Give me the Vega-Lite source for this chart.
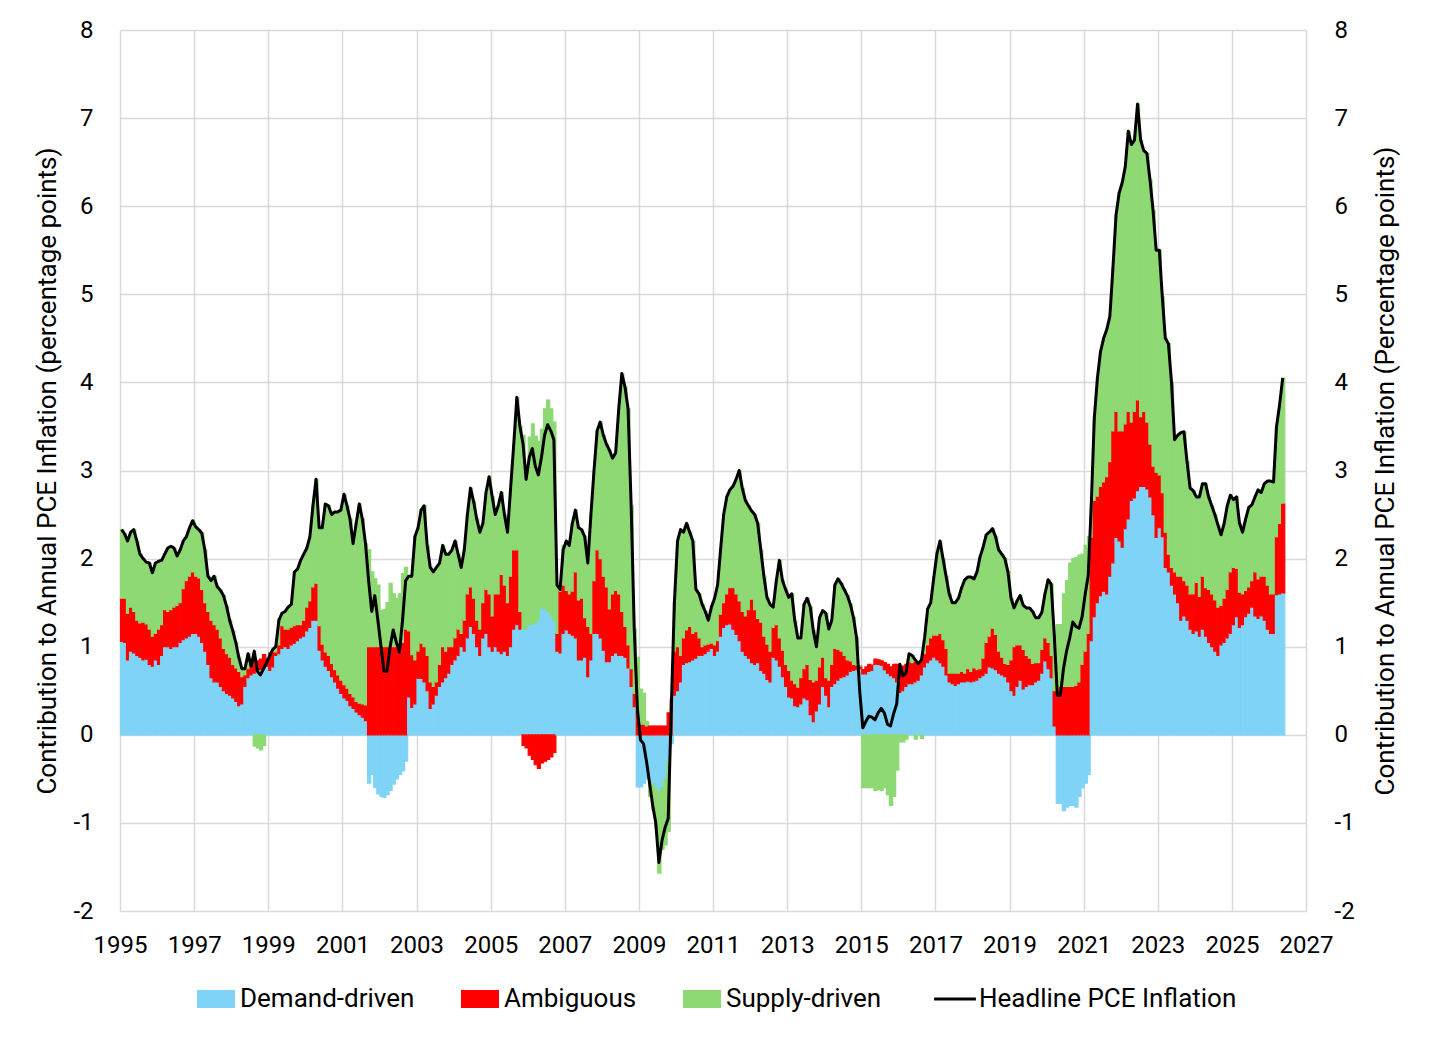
{
  "$schema": "https://vega.github.io/schema/vega-lite/v6.json",
  "width": 1186,
  "height": 881,
  "autosize": "none",
  "padding": {"left": 120, "top": 30, "right": 124, "bottom": 130},
  "background": "white",
  "config": {"font": "Roboto", "view": {"stroke": null}},
  "data": {"values": [
    {"t":"1995-01","d":1.06,"m":0.49,"s":0.78,"h":2.33},{"t":"1995-02","d":1.05,"m":0.5,"s":0.73,"h":2.28},{"t":"1995-03","d":0.85,"m":0.53,"s":0.82,"h":2.2},{"t":"1995-04","d":0.95,"m":0.5,"s":0.85,"h":2.3},{"t":"1995-05","d":0.93,"m":0.47,"s":0.93,"h":2.33},{"t":"1995-06","d":0.9,"m":0.4,"s":0.9,"h":2.2},{"t":"1995-07","d":0.88,"m":0.39,"s":0.78,"h":2.05},{"t":"1995-08","d":0.85,"m":0.43,"s":0.72,"h":2.0},{"t":"1995-09","d":0.86,"m":0.4,"s":0.7,"h":1.96},{"t":"1995-10","d":0.8,"m":0.4,"s":0.75,"h":1.95},{"t":"1995-11","d":0.78,"m":0.34,"s":0.72,"h":1.84},{"t":"1995-12","d":0.85,"m":0.3,"s":0.8,"h":1.95},
    {"t":"1996-01","d":0.8,"m":0.4,"s":0.77,"h":1.97},{"t":"1996-02","d":0.9,"m":0.35,"s":0.73,"h":1.98},{"t":"1996-03","d":1.0,"m":0.42,"s":0.63,"h":2.05},{"t":"1996-04","d":1.0,"m":0.4,"s":0.72,"h":2.12},{"t":"1996-05","d":0.98,"m":0.44,"s":0.72,"h":2.14},{"t":"1996-06","d":1.0,"m":0.45,"s":0.67,"h":2.12},{"t":"1996-07","d":1.0,"m":0.47,"s":0.56,"h":2.03},{"t":"1996-08","d":1.05,"m":0.45,"s":0.6,"h":2.1},{"t":"1996-09","d":1.08,"m":0.58,"s":0.54,"h":2.2},{"t":"1996-10","d":1.1,"m":0.65,"s":0.5,"h":2.25},{"t":"1996-11","d":1.12,"m":0.68,"s":0.55,"h":2.35},{"t":"1996-12","d":1.15,"m":0.7,"s":0.58,"h":2.43},
    {"t":"1997-01","d":1.15,"m":0.65,"s":0.56,"h":2.36},{"t":"1997-02","d":1.12,"m":0.66,"s":0.55,"h":2.33},{"t":"1997-03","d":1.05,"m":0.6,"s":0.64,"h":2.29},{"t":"1997-04","d":0.95,"m":0.55,"s":0.6,"h":2.1},{"t":"1997-05","d":0.8,"m":0.6,"s":0.4,"h":1.8},{"t":"1997-06","d":0.65,"m":0.65,"s":0.45,"h":1.75},{"t":"1997-07","d":0.6,"m":0.65,"s":0.55,"h":1.8},{"t":"1997-08","d":0.6,"m":0.6,"s":0.48,"h":1.68},{"t":"1997-09","d":0.55,"m":0.55,"s":0.54,"h":1.64},{"t":"1997-10","d":0.5,"m":0.48,"s":0.6,"h":1.58},{"t":"1997-11","d":0.47,"m":0.45,"s":0.54,"h":1.46},{"t":"1997-12","d":0.45,"m":0.43,"s":0.42,"h":1.3},
    {"t":"1998-01","d":0.42,"m":0.38,"s":0.38,"h":1.18},{"t":"1998-02","d":0.38,"m":0.38,"s":0.29,"h":1.05},{"t":"1998-03","d":0.33,"m":0.39,"s":0.16,"h":0.88},{"t":"1998-04","d":0.35,"m":0.31,"s":0.09,"h":0.75},{"t":"1998-05","d":0.55,"m":0.13,"s":0.07,"h":0.75},{"t":"1998-06","d":0.65,"m":0.1,"s":0.17,"h":0.92},{"t":"1998-07","d":0.68,"m":0.12,"s":0.0,"h":0.78},{"t":"1998-08","d":0.7,"m":0.15,"s":-0.13,"h":0.95},{"t":"1998-09","d":0.72,"m":0.12,"s":-0.15,"h":0.72},{"t":"1998-10","d":0.74,"m":0.12,"s":-0.17,"h":0.68},{"t":"1998-11","d":0.76,"m":0.15,"s":-0.12,"h":0.75},{"t":"1998-12","d":0.78,"m":0.1,"s":0.0,"h":0.82},
    {"t":"1999-01","d":0.73,"m":0.2,"s":0.0,"h":0.9},{"t":"1999-02","d":0.77,"m":0.17,"s":0.03,"h":0.97},{"t":"1999-03","d":0.9,"m":0.04,"s":0.06,"h":1.0},{"t":"1999-04","d":0.92,"m":0.1,"s":0.3,"h":1.3},{"t":"1999-05","d":0.98,"m":0.26,"s":0.14,"h":1.38},{"t":"1999-06","d":1.0,"m":0.2,"s":0.2,"h":1.4},{"t":"1999-07","d":0.98,"m":0.22,"s":0.25,"h":1.45},{"t":"1999-08","d":1.02,"m":0.2,"s":0.26,"h":1.48},{"t":"1999-09","d":1.04,"m":0.2,"s":0.6,"h":1.85},{"t":"1999-10","d":1.07,"m":0.18,"s":0.63,"h":1.88},{"t":"1999-11","d":1.1,"m":0.15,"s":0.73,"h":1.98},{"t":"1999-12","d":1.12,"m":0.18,"s":0.75,"h":2.05},
    {"t":"2000-01","d":1.18,"m":0.27,"s":0.67,"h":2.12},{"t":"2000-02","d":1.22,"m":0.3,"s":0.73,"h":2.25},{"t":"2000-03","d":1.3,"m":0.38,"s":0.92,"h":2.6},{"t":"2000-04","d":1.3,"m":0.42,"s":1.18,"h":2.9},{"t":"2000-05","d":0.96,"m":0.28,"s":1.11,"h":2.35},{"t":"2000-06","d":0.85,"m":0.18,"s":1.32,"h":2.35},{"t":"2000-07","d":0.78,"m":0.16,"s":1.68,"h":2.62},{"t":"2000-08","d":0.73,"m":0.17,"s":1.7,"h":2.6},{"t":"2000-09","d":0.66,"m":0.15,"s":1.69,"h":2.5},{"t":"2000-10","d":0.6,"m":0.14,"s":1.79,"h":2.53},{"t":"2000-11","d":0.53,"m":0.15,"s":1.85,"h":2.53},{"t":"2000-12","d":0.47,"m":0.15,"s":1.93,"h":2.55},
    {"t":"2001-01","d":0.42,"m":0.15,"s":2.16,"h":2.73},{"t":"2001-02","d":0.39,"m":0.14,"s":2.07,"h":2.6},{"t":"2001-03","d":0.33,"m":0.14,"s":1.98,"h":2.45},{"t":"2001-04","d":0.3,"m":0.13,"s":1.74,"h":2.17},{"t":"2001-05","d":0.26,"m":0.12,"s":2.02,"h":2.4},{"t":"2001-06","d":0.23,"m":0.13,"s":2.26,"h":2.62},{"t":"2001-07","d":0.2,"m":0.15,"s":2.1,"h":2.45},{"t":"2001-08","d":0.16,"m":0.18,"s":1.83,"h":2.17},{"t":"2001-09","d":-0.55,"m":1.0,"s":1.1,"h":1.75},{"t":"2001-10","d":-0.45,"m":1.0,"s":0.85,"h":1.4},{"t":"2001-11","d":-0.6,"m":1.0,"s":0.77,"h":1.58},{"t":"2001-12","d":-0.67,"m":1.0,"s":0.7,"h":1.3},
    {"t":"2002-01","d":-0.7,"m":1.0,"s":0.41,"h":1.0},{"t":"2002-02","d":-0.71,"m":1.0,"s":0.42,"h":0.72},{"t":"2002-03","d":-0.68,"m":1.0,"s":0.5,"h":0.72},{"t":"2002-04","d":-0.63,"m":1.0,"s":0.72,"h":1.0},{"t":"2002-05","d":-0.56,"m":1.0,"s":0.6,"h":1.19},{"t":"2002-06","d":-0.5,"m":1.0,"s":0.55,"h":1.05},{"t":"2002-07","d":-0.45,"m":1.0,"s":0.6,"h":0.94},{"t":"2002-08","d":-0.41,"m":1.05,"s":0.78,"h":1.3},{"t":"2002-09","d":-0.3,"m":1.2,"s":0.7,"h":1.75},{"t":"2002-10","d":0.43,"m":0.75,"s":0.6,"h":1.8},{"t":"2002-11","d":0.31,"m":0.6,"s":0.9,"h":1.8},{"t":"2002-12","d":0.35,"m":0.5,"s":1.4,"h":2.25},
    {"t":"2003-01","d":0.64,"m":0.31,"s":1.4,"h":2.35},{"t":"2003-02","d":0.64,"m":0.4,"s":1.51,"h":2.55},{"t":"2003-03","d":0.6,"m":0.4,"s":1.6,"h":2.6},{"t":"2003-04","d":0.5,"m":0.4,"s":1.25,"h":2.15},{"t":"2003-05","d":0.3,"m":0.3,"s":1.3,"h":1.9},{"t":"2003-06","d":0.35,"m":0.2,"s":1.3,"h":1.85},{"t":"2003-07","d":0.45,"m":0.15,"s":1.3,"h":1.9},{"t":"2003-08","d":0.55,"m":0.25,"s":1.15,"h":1.95},{"t":"2003-09","d":0.6,"m":0.4,"s":1.15,"h":2.15},{"t":"2003-10","d":0.65,"m":0.3,"s":1.1,"h":2.05},{"t":"2003-11","d":0.7,"m":0.3,"s":1.05,"h":2.05},{"t":"2003-12","d":0.8,"m":0.2,"s":1.1,"h":2.1},
    {"t":"2004-01","d":0.85,"m":0.25,"s":1.1,"h":2.2},{"t":"2004-02","d":0.9,"m":0.3,"s":0.85,"h":2.05},{"t":"2004-03","d":1.0,"m":0.15,"s":0.75,"h":1.9},{"t":"2004-04","d":0.95,"m":0.35,"s":0.8,"h":2.1},{"t":"2004-05","d":1.1,"m":0.5,"s":0.9,"h":2.5},{"t":"2004-06","d":1.23,"m":0.45,"s":1.12,"h":2.8},{"t":"2004-07","d":1.15,"m":0.4,"s":1.1,"h":2.65},{"t":"2004-08","d":1.0,"m":0.3,"s":1.15,"h":2.45},{"t":"2004-09","d":0.9,"m":0.3,"s":1.1,"h":2.3},{"t":"2004-10","d":1.1,"m":0.4,"s":0.9,"h":2.4},{"t":"2004-11","d":1.15,"m":0.5,"s":1.1,"h":2.75},{"t":"2004-12","d":1.0,"m":0.6,"s":1.33,"h":2.93},
    {"t":"2005-01","d":0.95,"m":0.4,"s":1.35,"h":2.7},{"t":"2005-02","d":1.0,"m":0.6,"s":0.9,"h":2.5},{"t":"2005-03","d":0.95,"m":0.65,"s":1.0,"h":2.6},{"t":"2005-04","d":0.92,"m":0.9,"s":0.93,"h":2.75},{"t":"2005-05","d":0.95,"m":0.75,"s":0.8,"h":2.5},{"t":"2005-06","d":0.9,"m":0.6,"s":0.8,"h":2.3},{"t":"2005-07","d":1.0,"m":0.8,"s":1.0,"h":2.8},{"t":"2005-08","d":1.2,"m":0.9,"s":1.2,"h":3.3},{"t":"2005-09","d":1.25,"m":0.85,"s":1.73,"h":3.83},{"t":"2005-10","d":1.2,"m":0.2,"s":2.1,"h":3.5},{"t":"2005-11","d":1.2,"m":-0.12,"s":2.2,"h":3.3},{"t":"2005-12","d":1.2,"m":-0.15,"s":1.85,"h":2.9},
    {"t":"2006-01","d":1.25,"m":-0.23,"s":2.13,"h":3.15},{"t":"2006-02","d":1.25,"m":-0.28,"s":2.28,"h":3.25},{"t":"2006-03","d":1.27,"m":-0.34,"s":2.12,"h":3.05},{"t":"2006-04","d":1.3,"m":-0.38,"s":2.03,"h":2.95},{"t":"2006-05","d":1.44,"m":-0.32,"s":2.03,"h":3.15},{"t":"2006-06","d":1.43,"m":-0.3,"s":2.27,"h":3.4},{"t":"2006-07","d":1.4,"m":-0.28,"s":2.4,"h":3.52},{"t":"2006-08","d":1.35,"m":-0.25,"s":2.35,"h":3.45},{"t":"2006-09","d":1.3,"m":-0.2,"s":2.25,"h":3.35},{"t":"2006-10","d":0.95,"m":0.2,"s":0.55,"h":1.7},{"t":"2006-11","d":0.93,"m":0.7,"s":0.1,"h":1.65},{"t":"2006-12","d":1.15,"m":0.55,"s":0.45,"h":2.1},
    {"t":"2007-01","d":1.19,"m":0.45,"s":0.56,"h":2.2},{"t":"2007-02","d":1.15,"m":0.45,"s":0.55,"h":2.15},{"t":"2007-03","d":1.13,"m":0.5,"s":0.77,"h":2.4},{"t":"2007-04","d":1.1,"m":0.75,"s":0.7,"h":2.55},{"t":"2007-05","d":0.85,"m":0.68,"s":0.82,"h":2.35},{"t":"2007-06","d":0.85,"m":0.7,"s":0.78,"h":2.33},{"t":"2007-07","d":0.88,"m":0.45,"s":0.92,"h":2.25},{"t":"2007-08","d":0.66,"m":0.57,"s":0.72,"h":1.95},{"t":"2007-09","d":0.85,"m":0.3,"s":1.35,"h":2.5},{"t":"2007-10","d":1.15,"m":0.6,"s":1.25,"h":3.0},{"t":"2007-11","d":1.15,"m":0.95,"s":1.35,"h":3.45},{"t":"2007-12","d":1.1,"m":0.9,"s":1.55,"h":3.55},
    {"t":"2008-01","d":0.96,"m":0.84,"s":1.6,"h":3.4},{"t":"2008-02","d":0.83,"m":0.85,"s":1.62,"h":3.3},{"t":"2008-03","d":0.83,"m":0.6,"s":1.8,"h":3.23},{"t":"2008-04","d":0.9,"m":0.7,"s":1.54,"h":3.14},{"t":"2008-05","d":0.93,"m":0.71,"s":1.56,"h":3.2},{"t":"2008-06","d":0.9,"m":0.7,"s":2.1,"h":3.7},{"t":"2008-07","d":0.9,"m":0.5,"s":2.7,"h":4.1},{"t":"2008-08","d":0.88,"m":0.35,"s":2.72,"h":3.95},{"t":"2008-09","d":0.76,"m":0.26,"s":2.68,"h":3.7},{"t":"2008-10","d":0.55,"m":0.2,"s":1.85,"h":2.6},{"t":"2008-11","d":0.32,"m":0.15,"s":0.73,"h":1.2},{"t":"2008-12","d":-0.59,"m":0.28,"s":0.6,"h":0.3},
    {"t":"2009-01","d":-0.59,"m":0.12,"s":0.4,"h":-0.06},{"t":"2009-02","d":-0.55,"m":0.12,"s":0.35,"h":-0.1},{"t":"2009-03","d":-0.5,"m":0.1,"s":0.05,"h":-0.3},{"t":"2009-04","d":-0.5,"m":0.1,"s":-0.2,"h":-0.55},{"t":"2009-05","d":-0.55,"m":0.1,"s":-0.3,"h":-0.8},{"t":"2009-06","d":-0.6,"m":0.1,"s":-0.45,"h":-1.0},{"t":"2009-07","d":-0.65,"m":0.1,"s":-0.92,"h":-1.45},{"t":"2009-08","d":-0.6,"m":0.1,"s":-0.7,"h":-1.2},{"t":"2009-09","d":-0.5,"m":0.1,"s":-0.75,"h":-1.05},{"t":"2009-10","d":-0.3,"m":0.25,"s":-0.8,"h":-0.95},{"t":"2009-11","d":-0.1,"m":0.4,"s":0.0,"h":0.3},{"t":"2009-12","d":0.45,"m":0.5,"s":0.55,"h":1.5},
    {"t":"2010-01","d":0.5,"m":0.5,"s":1.2,"h":2.2},{"t":"2010-02","d":0.6,"m":0.3,"s":1.43,"h":2.33},{"t":"2010-03","d":0.8,"m":0.3,"s":1.2,"h":2.3},{"t":"2010-04","d":0.82,"m":0.37,"s":1.2,"h":2.4},{"t":"2010-05","d":0.83,"m":0.4,"s":1.07,"h":2.3},{"t":"2010-06","d":0.85,"m":0.3,"s":1.05,"h":2.2},{"t":"2010-07","d":0.87,"m":0.3,"s":0.48,"h":1.65},{"t":"2010-08","d":0.9,"m":0.2,"s":0.5,"h":1.6},{"t":"2010-09","d":0.9,"m":0.1,"s":0.48,"h":1.48},{"t":"2010-10","d":0.92,"m":0.1,"s":0.38,"h":1.4},{"t":"2010-11","d":0.95,"m":0.08,"s":0.27,"h":1.3},{"t":"2010-12","d":0.98,"m":0.06,"s":0.41,"h":1.45},
    {"t":"2011-01","d":0.9,"m":0.12,"s":0.53,"h":1.55},{"t":"2011-02","d":0.95,"m":0.12,"s":0.63,"h":1.7},{"t":"2011-03","d":1.12,"m":0.25,"s":0.73,"h":2.1},{"t":"2011-04","d":1.22,"m":0.28,"s":1.0,"h":2.5},{"t":"2011-05","d":1.25,"m":0.35,"s":1.1,"h":2.7},{"t":"2011-06","d":1.26,"m":0.41,"s":1.11,"h":2.78},{"t":"2011-07","d":1.2,"m":0.47,"s":1.15,"h":2.82},{"t":"2011-08","d":1.14,"m":0.46,"s":1.3,"h":2.9},{"t":"2011-09","d":1.07,"m":0.45,"s":1.48,"h":3.0},{"t":"2011-10","d":0.95,"m":0.45,"s":1.4,"h":2.8},{"t":"2011-11","d":0.9,"m":0.45,"s":1.31,"h":2.66},{"t":"2011-12","d":0.87,"m":0.55,"s":1.18,"h":2.6},
    {"t":"2012-01","d":0.82,"m":0.72,"s":1.0,"h":2.54},{"t":"2012-02","d":0.8,"m":0.62,"s":1.08,"h":2.5},{"t":"2012-03","d":0.82,"m":0.5,"s":1.08,"h":2.4},{"t":"2012-04","d":0.73,"m":0.55,"s":0.82,"h":2.1},{"t":"2012-05","d":0.7,"m":0.42,"s":0.68,"h":1.8},{"t":"2012-06","d":0.63,"m":0.4,"s":0.53,"h":1.56},{"t":"2012-07","d":0.6,"m":0.35,"s":0.53,"h":1.48},{"t":"2012-08","d":0.88,"m":0.34,"s":0.23,"h":1.45},{"t":"2012-09","d":0.85,"m":0.4,"s":0.5,"h":1.75},{"t":"2012-10","d":0.78,"m":0.32,"s":0.88,"h":1.98},{"t":"2012-11","d":0.66,"m":0.3,"s":0.79,"h":1.75},{"t":"2012-12","d":0.55,"m":0.25,"s":0.85,"h":1.65},
    {"t":"2013-01","d":0.43,"m":0.3,"s":0.83,"h":1.56},{"t":"2013-02","d":0.42,"m":0.2,"s":0.98,"h":1.6},{"t":"2013-03","d":0.33,"m":0.25,"s":0.72,"h":1.3},{"t":"2013-04","d":0.32,"m":0.22,"s":0.56,"h":1.1},{"t":"2013-05","d":0.35,"m":0.3,"s":0.45,"h":1.1},{"t":"2013-06","d":0.42,"m":0.33,"s":0.73,"h":1.48},{"t":"2013-07","d":0.4,"m":0.4,"s":0.75,"h":1.55},{"t":"2013-08","d":0.23,"m":0.4,"s":0.82,"h":1.45},{"t":"2013-09","d":0.15,"m":0.45,"s":0.58,"h":1.18},{"t":"2013-10","d":0.27,"m":0.35,"s":0.38,"h":1.0},{"t":"2013-11","d":0.35,"m":0.42,"s":0.56,"h":1.33},{"t":"2013-12","d":0.55,"m":0.33,"s":0.53,"h":1.41},
    {"t":"2014-01","d":0.45,"m":0.2,"s":0.73,"h":1.38},{"t":"2014-02","d":0.32,"m":0.3,"s":0.58,"h":1.2},{"t":"2014-03","d":0.55,"m":0.25,"s":0.5,"h":1.3},{"t":"2014-04","d":0.58,"m":0.4,"s":0.72,"h":1.7},{"t":"2014-05","d":0.62,"m":0.35,"s":0.8,"h":1.77},{"t":"2014-06","d":0.65,"m":0.3,"s":0.77,"h":1.72},{"t":"2014-07","d":0.66,"m":0.24,"s":0.75,"h":1.65},{"t":"2014-08","d":0.68,"m":0.17,"s":0.73,"h":1.58},{"t":"2014-09","d":0.72,"m":0.12,"s":0.64,"h":1.48},{"t":"2014-10","d":0.73,"m":0.07,"s":0.53,"h":1.33},{"t":"2014-11","d":0.74,"m":0.05,"s":0.31,"h":1.1},{"t":"2014-12","d":0.75,"m":0.03,"s":0.0,"h":0.5},
    {"t":"2015-01","d":0.69,"m":0.05,"s":-0.6,"h":0.08},{"t":"2015-02","d":0.69,"m":0.08,"s":-0.6,"h":0.15},{"t":"2015-03","d":0.72,"m":0.08,"s":-0.6,"h":0.21},{"t":"2015-04","d":0.73,"m":0.06,"s":-0.6,"h":0.2},{"t":"2015-05","d":0.8,"m":0.06,"s":-0.63,"h":0.17},{"t":"2015-06","d":0.8,"m":0.05,"s":-0.62,"h":0.25},{"t":"2015-07","d":0.79,"m":0.05,"s":-0.63,"h":0.3},{"t":"2015-08","d":0.74,"m":0.08,"s":-0.6,"h":0.25},{"t":"2015-09","d":0.7,"m":0.1,"s":-0.68,"h":0.12},{"t":"2015-10","d":0.67,"m":0.1,"s":-0.8,"h":0.1},{"t":"2015-11","d":0.65,"m":0.15,"s":-0.7,"h":0.24},{"t":"2015-12","d":0.6,"m":0.2,"s":-0.4,"h":0.35},
    {"t":"2016-01","d":0.48,"m":0.3,"s":-0.08,"h":0.8},{"t":"2016-02","d":0.5,"m":0.28,"s":-0.08,"h":0.67},{"t":"2016-03","d":0.55,"m":0.25,"s":-0.05,"h":0.7},{"t":"2016-04","d":0.58,"m":0.25,"s":0.05,"h":0.92},{"t":"2016-05","d":0.58,"m":0.24,"s":0.08,"h":0.9},{"t":"2016-06","d":0.6,"m":0.22,"s":-0.05,"h":0.85},{"t":"2016-07","d":0.62,"m":0.2,"s":0.0,"h":0.81},{"t":"2016-08","d":0.68,"m":0.18,"s":-0.04,"h":0.85},{"t":"2016-09","d":0.77,"m":0.15,"s":0.15,"h":1.1},{"t":"2016-10","d":0.82,"m":0.2,"s":0.41,"h":1.43},{"t":"2016-11","d":0.85,"m":0.25,"s":0.4,"h":1.5},{"t":"2016-12","d":0.88,"m":0.25,"s":0.66,"h":1.79},
    {"t":"2017-01","d":0.85,"m":0.28,"s":0.93,"h":2.06},{"t":"2017-02","d":0.82,"m":0.33,"s":1.05,"h":2.2},{"t":"2017-03","d":0.78,"m":0.3,"s":0.92,"h":2.0},{"t":"2017-04","d":0.68,"m":0.3,"s":0.82,"h":1.8},{"t":"2017-05","d":0.6,"m":0.1,"s":0.9,"h":1.6},{"t":"2017-06","d":0.58,"m":0.12,"s":0.8,"h":1.5},{"t":"2017-07","d":0.56,"m":0.14,"s":0.8,"h":1.5},{"t":"2017-08","d":0.58,"m":0.12,"s":0.85,"h":1.55},{"t":"2017-09","d":0.6,"m":0.12,"s":0.95,"h":1.67},{"t":"2017-10","d":0.6,"m":0.1,"s":1.06,"h":1.76},{"t":"2017-11","d":0.61,"m":0.14,"s":1.04,"h":1.79},{"t":"2017-12","d":0.6,"m":0.12,"s":1.07,"h":1.79},
    {"t":"2018-01","d":0.61,"m":0.15,"s":1.01,"h":1.77},{"t":"2018-02","d":0.62,"m":0.12,"s":1.11,"h":1.85},{"t":"2018-03","d":0.65,"m":0.1,"s":1.27,"h":2.02},{"t":"2018-04","d":0.67,"m":0.2,"s":1.26,"h":2.13},{"t":"2018-05","d":0.7,"m":0.35,"s":1.22,"h":2.27},{"t":"2018-06","d":0.77,"m":0.35,"s":1.18,"h":2.3},{"t":"2018-07","d":0.76,"m":0.45,"s":1.13,"h":2.34},{"t":"2018-08","d":0.74,"m":0.4,"s":1.11,"h":2.25},{"t":"2018-09","d":0.7,"m":0.25,"s":1.15,"h":2.1},{"t":"2018-10","d":0.68,"m":0.2,"s":1.17,"h":2.05},{"t":"2018-11","d":0.66,"m":0.15,"s":1.19,"h":2.0},{"t":"2018-12","d":0.6,"m":0.2,"s":1.05,"h":1.85},
    {"t":"2019-01","d":0.5,"m":0.35,"s":0.7,"h":1.55},{"t":"2019-02","d":0.45,"m":0.55,"s":0.44,"h":1.44},{"t":"2019-03","d":0.55,"m":0.47,"s":0.5,"h":1.52},{"t":"2019-04","d":0.62,"m":0.4,"s":0.56,"h":1.58},{"t":"2019-05","d":0.52,"m":0.45,"s":0.5,"h":1.47},{"t":"2019-06","d":0.55,"m":0.35,"s":0.54,"h":1.44},{"t":"2019-07","d":0.57,"m":0.3,"s":0.57,"h":1.44},{"t":"2019-08","d":0.57,"m":0.24,"s":0.59,"h":1.4},{"t":"2019-09","d":0.6,"m":0.22,"s":0.51,"h":1.33},{"t":"2019-10","d":0.62,"m":0.2,"s":0.51,"h":1.33},{"t":"2019-11","d":0.7,"m":0.27,"s":0.42,"h":1.39},{"t":"2019-12","d":0.84,"m":0.26,"s":0.5,"h":1.6},
    {"t":"2020-01","d":0.75,"m":0.3,"s":0.71,"h":1.76},{"t":"2020-02","d":0.65,"m":0.25,"s":0.81,"h":1.71},{"t":"2020-03","d":0.1,"m":0.4,"s":0.65,"h":1.15},{"t":"2020-04","d":-0.78,"m":0.5,"s":0.75,"h":0.45},{"t":"2020-05","d":-0.78,"m":0.55,"s":0.7,"h":0.45},{"t":"2020-06","d":-0.86,"m":0.55,"s":1.05,"h":0.75},{"t":"2020-07","d":-0.82,"m":0.55,"s":1.2,"h":0.95},{"t":"2020-08","d":-0.8,"m":0.55,"s":1.4,"h":1.1},{"t":"2020-09","d":-0.8,"m":0.55,"s":1.45,"h":1.28},{"t":"2020-10","d":-0.82,"m":0.56,"s":1.45,"h":1.23},{"t":"2020-11","d":-0.7,"m":0.6,"s":1.44,"h":1.21},{"t":"2020-12","d":-0.6,"m":0.8,"s":1.25,"h":1.34},
    {"t":"2021-01","d":-0.55,"m":0.95,"s":1.2,"h":1.6},{"t":"2021-02","d":-0.45,"m":1.15,"s":1.1,"h":1.81},{"t":"2021-03","d":1.07,"m":1.17,"s":0.36,"h":2.6},{"t":"2021-04","d":1.34,"m":1.32,"s":0.94,"h":3.6},{"t":"2021-05","d":1.5,"m":1.21,"s":1.34,"h":4.05},{"t":"2021-06","d":1.58,"m":1.24,"s":1.53,"h":4.35},{"t":"2021-07","d":1.63,"m":1.24,"s":1.63,"h":4.5},{"t":"2021-08","d":1.6,"m":1.33,"s":1.67,"h":4.6},{"t":"2021-09","d":1.8,"m":1.3,"s":1.65,"h":4.75},{"t":"2021-10","d":1.95,"m":1.5,"s":1.85,"h":5.3},{"t":"2021-11","d":2.24,"m":1.43,"s":2.23,"h":5.9},{"t":"2021-12","d":2.2,"m":1.25,"s":2.7,"h":6.15},
    {"t":"2022-01","d":2.13,"m":1.32,"s":2.82,"h":6.27},{"t":"2022-02","d":2.34,"m":1.19,"s":2.92,"h":6.45},{"t":"2022-03","d":2.45,"m":1.22,"s":3.18,"h":6.85},{"t":"2022-04","d":2.66,"m":0.89,"s":3.15,"h":6.7},{"t":"2022-05","d":2.69,"m":0.98,"s":3.08,"h":6.75},{"t":"2022-06","d":2.77,"m":1.03,"s":3.36,"h":7.16},{"t":"2022-07","d":2.82,"m":0.79,"s":3.14,"h":6.75},{"t":"2022-08","d":2.82,"m":0.85,"s":2.96,"h":6.63},{"t":"2022-09","d":2.79,"m":0.76,"s":3.05,"h":6.6},{"t":"2022-10","d":2.7,"m":0.6,"s":3.0,"h":6.3},{"t":"2022-11","d":2.5,"m":0.55,"s":2.9,"h":5.95},{"t":"2022-12","d":2.24,"m":0.74,"s":2.52,"h":5.5},
    {"t":"2023-01","d":2.35,"m":0.6,"s":2.55,"h":5.5},{"t":"2023-02","d":2.25,"m":0.5,"s":2.22,"h":4.97},{"t":"2023-03","d":1.9,"m":0.4,"s":2.2,"h":4.5},{"t":"2023-04","d":1.85,"m":0.2,"s":2.39,"h":4.44},{"t":"2023-05","d":1.7,"m":0.2,"s":2.1,"h":4.0},{"t":"2023-06","d":1.6,"m":0.25,"s":1.5,"h":3.35},{"t":"2023-07","d":1.5,"m":0.3,"s":1.6,"h":3.4},{"t":"2023-08","d":1.3,"m":0.5,"s":1.63,"h":3.43},{"t":"2023-09","d":1.35,"m":0.4,"s":1.69,"h":3.44},{"t":"2023-10","d":1.3,"m":0.4,"s":1.4,"h":3.1},{"t":"2023-11","d":1.2,"m":0.4,"s":1.2,"h":2.8},{"t":"2023-12","d":1.15,"m":0.45,"s":1.17,"h":2.77},
    {"t":"2024-01","d":1.18,"m":0.55,"s":0.97,"h":2.7},{"t":"2024-02","d":1.12,"m":0.45,"s":1.13,"h":2.7},{"t":"2024-03","d":1.2,"m":0.6,"s":1.05,"h":2.85},{"t":"2024-04","d":1.12,"m":0.55,"s":1.18,"h":2.85},{"t":"2024-05","d":1.05,"m":0.6,"s":1.05,"h":2.7},{"t":"2024-06","d":1.0,"m":0.6,"s":1.0,"h":2.6},{"t":"2024-07","d":0.95,"m":0.58,"s":0.97,"h":2.5},{"t":"2024-08","d":0.9,"m":0.55,"s":0.93,"h":2.38},{"t":"2024-09","d":1.02,"m":0.45,"s":0.8,"h":2.27},{"t":"2024-10","d":1.05,"m":0.5,"s":0.85,"h":2.4},{"t":"2024-11","d":1.1,"m":0.55,"s":0.95,"h":2.6},{"t":"2024-12","d":1.15,"m":0.7,"s":0.87,"h":2.72},
    {"t":"2025-01","d":1.25,"m":0.65,"s":0.77,"h":2.67},{"t":"2025-02","d":1.34,"m":0.55,"s":0.81,"h":2.7},{"t":"2025-03","d":1.22,"m":0.4,"s":0.78,"h":2.4},{"t":"2025-04","d":1.25,"m":0.35,"s":0.7,"h":2.3},{"t":"2025-05","d":1.34,"m":0.3,"s":0.81,"h":2.45},{"t":"2025-06","d":1.38,"m":0.3,"s":0.9,"h":2.58},{"t":"2025-07","d":1.45,"m":0.3,"s":0.86,"h":2.61},{"t":"2025-08","d":1.35,"m":0.5,"s":0.85,"h":2.7},{"t":"2025-09","d":1.32,"m":0.45,"s":1.01,"h":2.78},{"t":"2025-10","d":1.35,"m":0.45,"s":0.95,"h":2.75},{"t":"2025-11","d":1.3,"m":0.5,"s":1.05,"h":2.85},{"t":"2025-12","d":1.2,"m":0.5,"s":1.18,"h":2.88},
    {"t":"2026-01","d":1.15,"m":0.45,"s":1.28,"h":2.88},{"t":"2026-02","d":1.15,"m":0.45,"s":1.27,"h":2.87},{"t":"2026-03","d":1.59,"m":0.66,"s":1.25,"h":3.5},{"t":"2026-04","d":1.6,"m":0.8,"s":1.35,"h":3.75},{"t":"2026-05","d":1.61,"m":1.02,"s":1.42,"h":4.05}
  ]},
  "layer": [
    {
      "transform": [{"fold": ["d", "m", "s"], "as": ["k", "v"]}],
      "mark": {"type": "bar", "strokeWidth": 1.2, "binSpacing": 0},
      "encoding": {
        "x": {
          "field": "t", "timeUnit": "utcyearmonth", "type": "temporal",
          "scale": {"domain": [{"year": 1995, "month": 1, "date": 1, "utc": true}, {"year": 2027, "month": 1, "date": 1, "utc": true}], "nice": false},
          "axis": {
            "title": null, "format": "%Y",
            "values": [{"year":1995,"utc":true},{"year":1997,"utc":true},{"year":1999,"utc":true},{"year":2001,"utc":true},{"year":2003,"utc":true},{"year":2005,"utc":true},{"year":2007,"utc":true},{"year":2009,"utc":true},{"year":2011,"utc":true},{"year":2013,"utc":true},{"year":2015,"utc":true},{"year":2017,"utc":true},{"year":2019,"utc":true},{"year":2021,"utc":true},{"year":2023,"utc":true},{"year":2025,"utc":true},{"year":2027,"utc":true}],
            "grid": true, "gridColor": "#d9d9d9", "gridWidth": 1.5,
            "domain": false, "ticks": false, "labelPadding": 22, "labelFontSize": 24, "labelColor": "#000",
            "labelFlush": false, "labelOverlap": false, "labelBound": false
          }
        },
        "y": {
          "field": "v", "type": "quantitative", "stack": "zero",
          "scale": {"domain": [-2, 8], "nice": false, "zero": false},
          "axis": {
            "title": "Contribution to Annual PCE Inflation (percentage points)",
            "values": [-2, -1, 0, 1, 2, 3, 4, 5, 6, 7, 8],
            "labelExpr": "'' + datum.value",
            "grid": true, "gridColor": "#d9d9d9", "gridWidth": 1.5,
            "domain": false, "ticks": false, "labelPadding": 27, "labelFontSize": 24, "labelColor": "#000",
            "titleFontSize": 26, "titleFontWeight": "normal", "titleColor": "#000", "titlePadding": 12
          }
        },
        "color": {
          "field": "k", "type": "nominal",
          "scale": {"domain": ["d", "m", "s", "h"], "range": ["#7fd3f6", "#ff0000", "#8ed973", "#000000"]},
          "legend": {
            "orient": "none", "legendX": 83, "legendY": 956, "direction": "horizontal",
            "gridAlign": "none", "columnPadding": 46, "title": null,
            "labelFontSize": 26, "labelColor": "#000", "labelOffset": 11, "labelLimit": 500,
            "symbolSize": 1444, "symbolType": "M-1,-0.474H1V0.474H-1Z",
            "labelExpr": "datum.label === 'd' ? 'Demand-driven' : datum.label === 'm' ? 'Ambiguous' : datum.label === 's' ? 'Supply-driven' : 'Headline PCE Inflation'",
            "encode": {
              "symbols": {
                "update": {
                  "shape": {"signal": "datum.value === 'h' ? 'M-1.1,0H1.1' : 'M-1,-0.474H1V0.474H-1Z'"},
                  "fill": {"signal": "datum.value === 'h' ? 'transparent' : scale('color', datum.value)"},
                  "stroke": {"signal": "scale('color', datum.value)"},
                  "strokeWidth": {"signal": "datum.value === 'h' ? 3 : 0"},
                  "opacity": {"value": 1}
                }
              }
            }
          }
        },
        "stroke": {
          "field": "k", "type": "nominal",
          "scale": {"domain": ["d", "m", "s"], "range": ["#7fd3f6", "#ff0000", "#8ed973"]},
          "legend": null
        },
        "order": {"field": "k", "sort": "ascending"}
      }
    },
    {
      "mark": {"type": "line", "strokeWidth": 3, "strokeJoin": "round"},
      "encoding": {
        "x": {"field": "t", "timeUnit": "utcyearmonth", "type": "temporal", "bandPosition": 0.5},
        "y": {
          "field": "h", "type": "quantitative",
          "scale": {"domain": [-2, 8], "nice": false, "zero": false},
          "axis": {
            "orient": "right",
            "title": "Contribution to Annual PCE Inflation (Percentage points)",
            "values": [-2, -1, 0, 1, 2, 3, 4, 5, 6, 7, 8],
            "labelExpr": "'' + datum.value",
            "grid": false, "domain": false, "ticks": false, "labelPadding": 28, "labelFontSize": 24, "labelColor": "#000",
            "titleFontSize": 26, "titleFontWeight": "normal", "titleColor": "#000", "titlePadding": 44, "titleAngle": 270
          }
        },
        "color": {"datum": "h", "type": "nominal", "legend": null}
      }
    }
  ],
  "resolve": {"scale": {"y": "independent"}}
}
